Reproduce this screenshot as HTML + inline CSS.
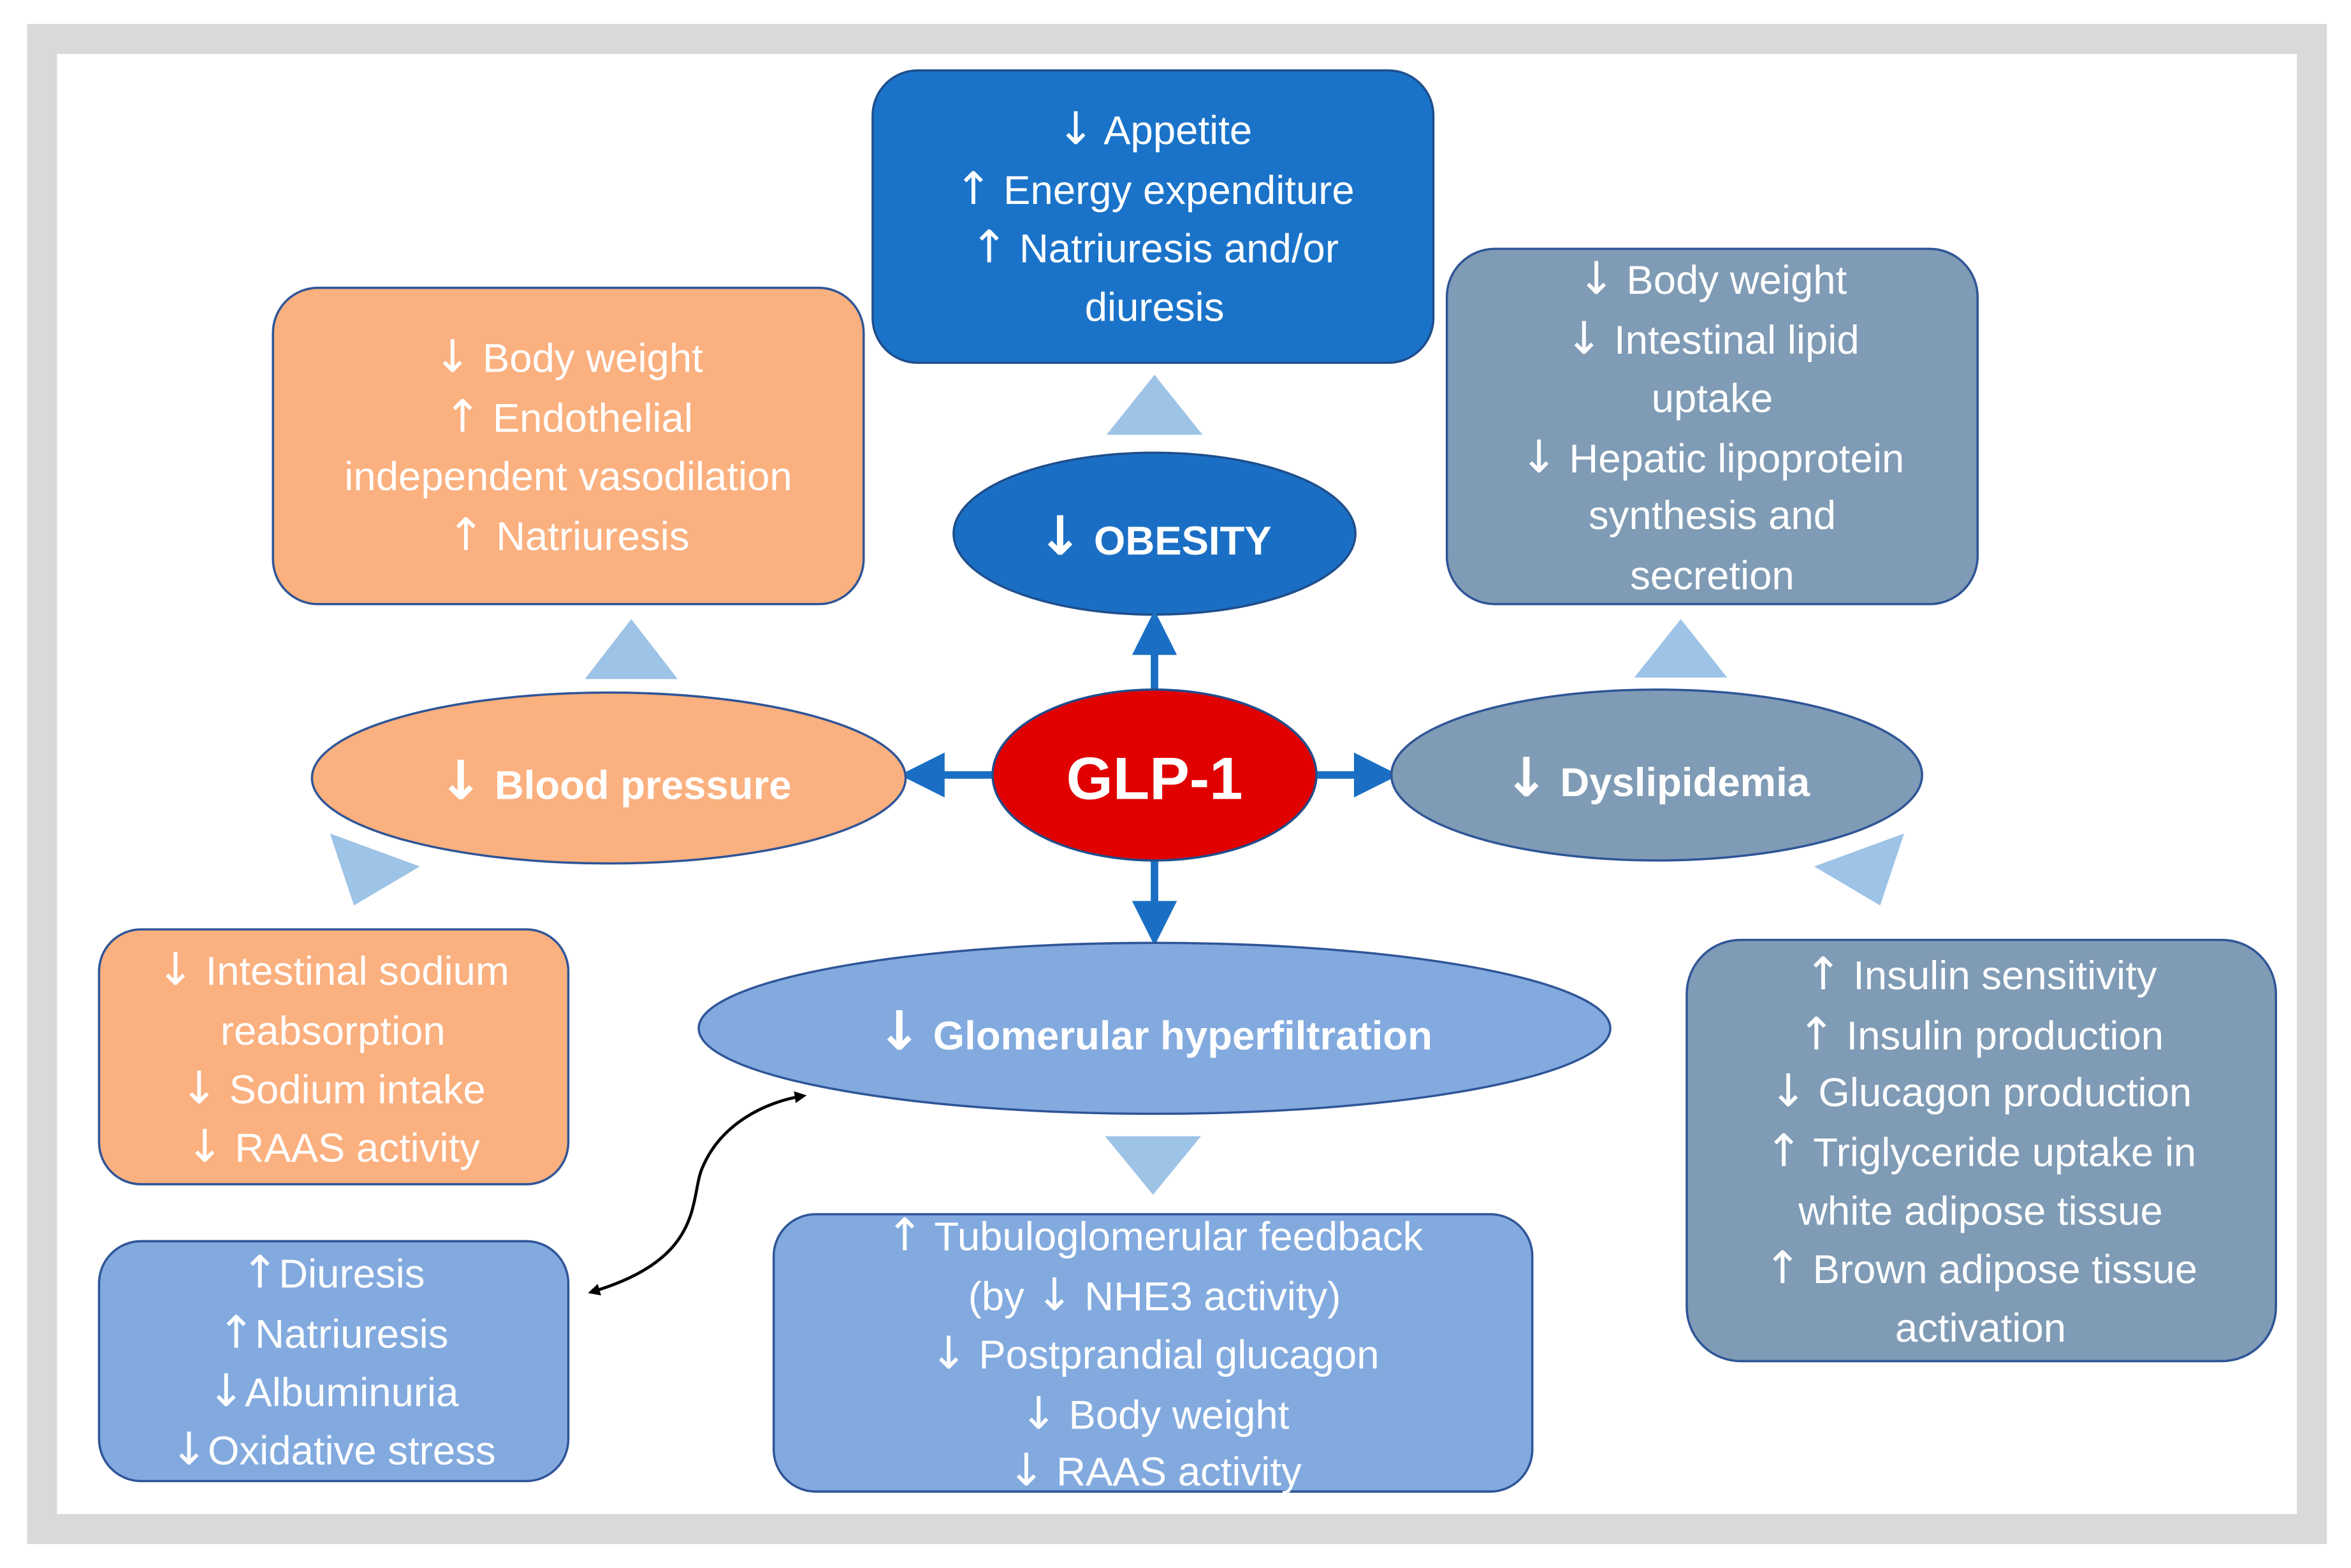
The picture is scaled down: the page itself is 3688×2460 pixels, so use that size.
<!DOCTYPE html>
<html><head><meta charset="utf-8"><style>
html,body{margin:0;padding:0;background:#fff;}
svg{display:block;}
text{font-family:"Liberation Sans","DejaVu Sans",sans-serif;fill:#fff;text-anchor:middle;}
.t{font-size:27px;}
.b{font-weight:bold;}
.a{font-family:"DejaVu Sans",sans-serif;font-size:30px;font-weight:normal;}
.ab{font-family:"DejaVu Sans",sans-serif;font-size:36px;font-weight:bold;}
</style></head><body>
<svg width="3688" height="2460" viewBox="0 0 1568 1046" xmlns="http://www.w3.org/2000/svg">
<defs>
<marker id="ah" markerWidth="6" markerHeight="6" refX="3" refY="3" orient="auto" markerUnits="strokeWidth">
<path d="M0,0 L6,3 L0,6 z" fill="#1a6fc4"/></marker>
<marker id="bk" markerWidth="8" markerHeight="8" refX="6" refY="4" orient="auto" markerUnits="userSpaceOnUse">
<path d="M0,0 L8,4 L0,8 z" fill="#000"/></marker>
<marker id="bks" markerWidth="8" markerHeight="8" refX="2" refY="4" orient="auto" markerUnits="userSpaceOnUse">
<path d="M8,0 L0,4 L8,8 z" fill="#000"/></marker>
</defs>
<rect x="0" y="0" width="1568" height="1046" fill="#fff"/>
<rect x="28" y="26" width="1514" height="994" fill="#fff" stroke="#d9d9d9" stroke-width="20"/>

<rect x="582" y="47" width="374" height="195" rx="30" fill="#1a73c9" stroke="#1f4e8c" stroke-width="1.5"/>
<g class="t"><text x="770" y="96"><tspan class="a">↓</tspan> Appetite</text><text x="770" y="136"><tspan class="a">↑</tspan> Energy expenditure</text><text x="770" y="175"><tspan class="a">↑</tspan> Natriuresis and/or</text><text x="770" y="214">diuresis</text></g>
<polygon points="738,290 802,290 770,250" fill="#9dc3e6"/>
<ellipse cx="770" cy="356" rx="134" ry="54" fill="#1a6fc4" stroke="#1f4e8c" stroke-width="1.5"/>
<text x="770" y="370" class="b" style="font-size:27px"><tspan class="ab">↓</tspan> OBESITY</text>

<g stroke="#1a6fc4" stroke-width="5" fill="none">
<line x1="770" y1="460" x2="770" y2="422" marker-end="url(#ah)"/>
<line x1="662" y1="517" x2="615" y2="517" marker-end="url(#ah)"/>
<line x1="878" y1="517" x2="918" y2="517" marker-end="url(#ah)"/>
<line x1="770" y1="574" x2="770" y2="616" marker-end="url(#ah)"/>
</g>
<ellipse cx="770" cy="517" rx="108" ry="57" fill="#e00000" stroke="#1f4e8c" stroke-width="1.5"/>
<text x="770" y="533" class="b" style="font-size:40px">GLP-1</text>

<rect x="182" y="192" width="394" height="211" rx="30" fill="#fbb07f" stroke="#2f5597" stroke-width="1.5"/>
<g class="t"><text x="379" y="248"><tspan class="a">↓</tspan> Body weight</text><text x="379" y="288"><tspan class="a">↑</tspan> Endothelial</text><text x="379" y="327">independent vasodilation</text><text x="379" y="367"><tspan class="a">↑</tspan> Natriuresis</text></g>
<polygon points="390,453 452,453 421,413" fill="#9dc3e6"/>
<ellipse cx="406" cy="519" rx="198" ry="57" fill="#fbb07f" stroke="#2f5597" stroke-width="1.5"/>
<text x="410" y="533" class="b" style="font-size:27px"><tspan class="ab">↓</tspan> Blood pressure</text>

<rect x="965" y="166" width="354" height="237" rx="32" fill="#7f9bb5" stroke="#2f5597" stroke-width="1.5"/>
<g class="t"><text x="1142" y="196"><tspan class="a">↓</tspan> Body weight</text><text x="1142" y="236"><tspan class="a">↓</tspan> Intestinal lipid</text><text x="1142" y="275">uptake</text><text x="1142" y="315"><tspan class="a">↓</tspan> Hepatic lipoprotein</text><text x="1142" y="353">synthesis and</text><text x="1142" y="393">secretion</text></g>
<polygon points="1090,452 1152,452 1121,413" fill="#9dc3e6"/>
<ellipse cx="1105" cy="517" rx="177" ry="57" fill="#7f9bb5" stroke="#2f5597" stroke-width="1.5"/>
<text x="1105" y="531" class="b" style="font-size:27px"><tspan class="ab">↓</tspan> Dyslipidemia</text>

<polygon points="220,556 280,578 236,604" fill="#9dc3e6"/>
<polygon points="1270,556 1210,578 1254,604" fill="#9dc3e6"/>

<rect x="66" y="620" width="313" height="170" rx="28" fill="#fbb07f" stroke="#2f5597" stroke-width="1.5"/>
<g class="t"><text x="222" y="657"><tspan class="a">↓</tspan> Intestinal sodium</text><text x="222" y="697">reabsorption</text><text x="222" y="736"><tspan class="a">↓</tspan> Sodium intake</text><text x="222" y="775"><tspan class="a">↓</tspan> RAAS activity</text></g>

<rect x="66" y="828" width="313" height="160" rx="28" fill="#82aadf" stroke="#2f5597" stroke-width="1.5"/>
<g class="t"><text x="222" y="859"><tspan class="a">↑</tspan>Diuresis</text><text x="222" y="899"><tspan class="a">↑</tspan>Natriuresis</text><text x="222" y="938"><tspan class="a">↓</tspan>Albuminuria</text><text x="222" y="977"><tspan class="a">↓</tspan>Oxidative stress</text></g>

<ellipse cx="770" cy="686" rx="304" ry="57" fill="#82aadf" stroke="#2f5597" stroke-width="1.5"/>
<text x="770" y="700" class="b" style="font-size:27px"><tspan class="ab">↓</tspan> Glomerular hyperfiltration</text>
<polygon points="737,758 801,758 769,797" fill="#9dc3e6"/>

<path d="M394,862 C470,840 460,800 468,780 C480,750 510,735 536,731" stroke="#000" stroke-width="2" fill="none" marker-start="url(#bks)" marker-end="url(#bk)"/>

<rect x="516" y="810" width="506" height="185" rx="28" fill="#82aadf" stroke="#2f5597" stroke-width="1.5"/>
<g class="t"><text x="770" y="834"><tspan class="a">↑</tspan> Tubuloglomerular feedback</text><text x="770" y="874">(by <tspan class="a">↓</tspan> NHE3 activity)</text><text x="770" y="913"><tspan class="a">↓</tspan> Postprandial glucagon</text><text x="770" y="953"><tspan class="a">↓</tspan> Body weight</text><text x="770" y="991"><tspan class="a">↓</tspan> RAAS activity</text></g>

<rect x="1125" y="627" width="393" height="281" rx="36" fill="#7f9bb5" stroke="#2f5597" stroke-width="1.5"/>
<g class="t"><text x="1321" y="660"><tspan class="a">↑</tspan> Insulin sensitivity</text><text x="1321" y="700"><tspan class="a">↑</tspan> Insulin production</text><text x="1321" y="738"><tspan class="a">↓</tspan> Glucagon production</text><text x="1321" y="778"><tspan class="a">↑</tspan> Triglyceride uptake in</text><text x="1321" y="817">white adipose tissue</text><text x="1321" y="856"><tspan class="a">↑</tspan> Brown adipose tissue</text><text x="1321" y="895">activation</text></g>
</svg>
</body></html>
